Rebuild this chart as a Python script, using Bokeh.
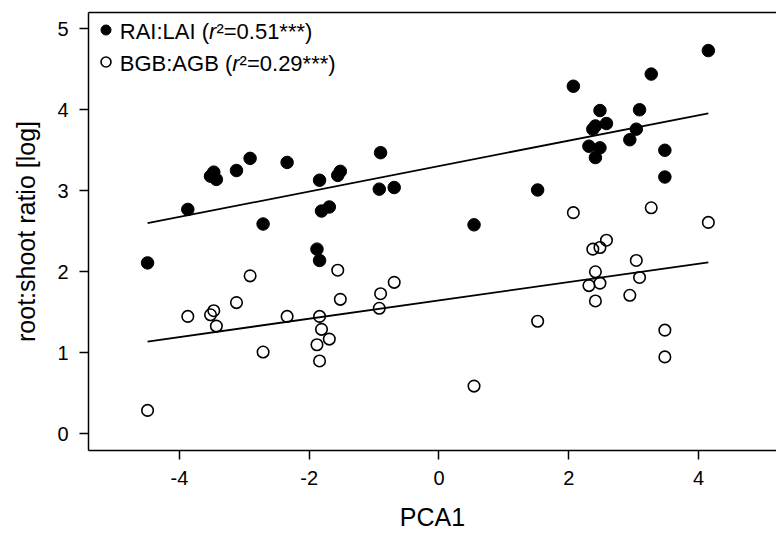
import numpy as np
from bokeh.plotting import figure
from bokeh.models import (Range1d, FixedTicker, LinearAxis, Label, Legend,
                          LegendItem, ColumnDataSource)
from bokeh.embed import file_html
from bokeh.resources import INLINE

# ---- data ----
PCA1 = [-4.49, -3.87, -3.52, -3.47, -3.43, -3.12, -2.91, -2.71, -2.34, -1.84,
        -1.81, -1.69, -1.88, -1.84, -1.56, -1.52, -0.90, -0.92, -0.69, 0.54,
        1.52, 2.07, 3.27, 2.48, 3.09, 2.58, 2.37, 2.41, 3.04, 2.94,
        2.31, 2.48, 2.41, 3.48, 3.48, 4.15]
RAI_LAI = [2.11, 2.77, 3.18, 3.23, 3.14, 3.25, 3.40, 2.59, 3.35, 3.13,
           2.75, 2.80, 2.28, 2.14, 3.19, 3.24, 3.47, 3.02, 3.04, 2.58,
           3.01, 4.29, 4.44, 3.99, 4.00, 3.83, 3.76, 3.80, 3.76, 3.63,
           3.55, 3.53, 3.41, 3.50, 3.17, 4.73]
BGB_AGB = [0.29, 1.45, 1.47, 1.52, 1.33, 1.62, 1.95, 1.01, 1.45, 1.45,
           1.29, 1.17, 1.10, 0.90, 2.02, 1.66, 1.73, 1.55, 1.87, 0.59,
           1.39, 2.73, 2.79, 2.30, 1.93, 2.39, 2.28, 2.00, 2.14, 1.71,
           1.83, 1.86, 1.64, 1.28, 0.95, 2.61]
# regression lines: (intercept, slope)
FIT_RAI = [3.305, 0.157]
FIT_BGB = [1.647, 0.113]

X_TICKS = [-4, -2, 0, 2, 4]
X_TICK_LABELS = ["-4", "-2", "0", "2", "4"]
Y_TICKS = [0, 1, 2, 3, 4, 5]
Y_TICK_LABELS = ["0", "1", "2", "3", "4", "5"]
X_RANGE = (-5.40, 5.20)
Y_RANGE = (-0.205, 5.20)

LEG1 = ["RAI:LAI (", "r", "\u00b2=0.51***)"]
LEG2 = ["BGB:AGB (", "r", "\u00b2=0.29***)"]

FONT = "Liberation Sans"
LEG_FS = 22

# Arial advance widths (1/1000 em) for legend layout
AW = {"R": 722, "A": 667, "I": 278, ":": 278, "L": 556, " ": 278, "(": 333,
      "B": 667, "G": 778, "r": 333}


def tw(s, fs):
    return sum(AW[c] for c in s) * fs / 1000.0


p = figure(width=776, height=534, output_backend="svg", toolbar_location=None,
           x_range=Range1d(*X_RANGE), y_range=Range1d(*Y_RANGE),
           min_border_left=88, min_border_right=0, min_border_top=12,
           min_border_bottom=84)
p.grid.visible = False
p.outline_line_color = None
p.background_fill_color = "white"
p.border_fill_color = "white"

for ax in (p.xaxis[0], p.yaxis[0]):
    ax.axis_line_width = 1.5
    ax.axis_line_color = "black"
    ax.major_tick_line_width = 1.5
    ax.major_tick_line_color = "black"
    ax.major_tick_in = 0
    ax.major_tick_out = 9
    ax.minor_tick_line_color = None
    ax.major_label_text_font = FONT
    ax.major_label_text_font_size = "20px"
    ax.major_label_text_color = "black"
    ax.axis_label_text_font = FONT
    ax.axis_label_text_font_size = "25px"
    ax.axis_label_text_font_style = "normal"
    ax.axis_label_text_color = "black"

p.xaxis.ticker = FixedTicker(ticks=X_TICKS)
p.xaxis.major_label_overrides = dict(zip(X_TICKS, X_TICK_LABELS))
p.yaxis.ticker = FixedTicker(ticks=Y_TICKS)
p.yaxis.major_label_overrides = dict(zip(Y_TICKS, Y_TICK_LABELS))
p.xaxis.axis_label = "PCA1"
p.yaxis.axis_label = "root:shoot ratio [log]"
p.xaxis.major_label_standoff = 11
p.yaxis.major_label_standoff = 11
p.xaxis.axis_label_standoff = 15
p.yaxis.axis_label_standoff = 14

top = LinearAxis(ticker=FixedTicker(ticks=[]), major_label_text_font_size="0px",
                 major_tick_out=0, major_tick_in=0, minor_tick_out=0,
                 minor_tick_in=0, axis_line_width=1.5, axis_line_color="black")
p.add_layout(top, "above")

src = ColumnDataSource(dict(x=PCA1, rai=RAI_LAI, bgb=BGB_AGB))

xf = np.array([min(PCA1), max(PCA1)])
p.line(xf, FIT_RAI[0] + FIT_RAI[1] * xf, line_width=1.8, line_color="black")
p.line(xf, FIT_BGB[0] + FIT_BGB[1] * xf, line_width=1.8, line_color="black")

r1 = p.scatter("x", "rai", source=src, size=12.5, fill_color="black",
               line_color="black", line_width=1)
r2 = p.scatter("x", "bgb", source=src, size=11.5, fill_color=None,
               line_color="black", line_width=1.6)

legend = Legend(items=[LegendItem(label=" ", renderers=[r1]),
                       LegendItem(label=" ", renderers=[r2])],
                location=(4.5, 376), margin=0, padding=4, glyph_width=25,
                glyph_height=25, spacing=7, border_line_color=None,
                background_fill_alpha=0, label_text_font_size="1px",
                label_width=1, label_height=1, label_standoff=0)
p.add_layout(legend)

x0 = 31.3
for pieces, ybase in ((LEG1, 418.7), (LEG2, 387.5)):
    x = x0
    for i, s in enumerate(pieces):
        p.add_layout(Label(x=x, y=ybase, x_units="screen", y_units="screen",
                           text=s, text_font=FONT,
                           text_font_size=f"{LEG_FS}px",
                           text_font_style="italic" if i == 1 else "normal",
                           text_baseline="alphabetic", text_align="left",
                           text_color="black"))
        if i < 2:
            x += tw(s, LEG_FS)

open("out.html", "w").write(file_html(p, INLINE))
